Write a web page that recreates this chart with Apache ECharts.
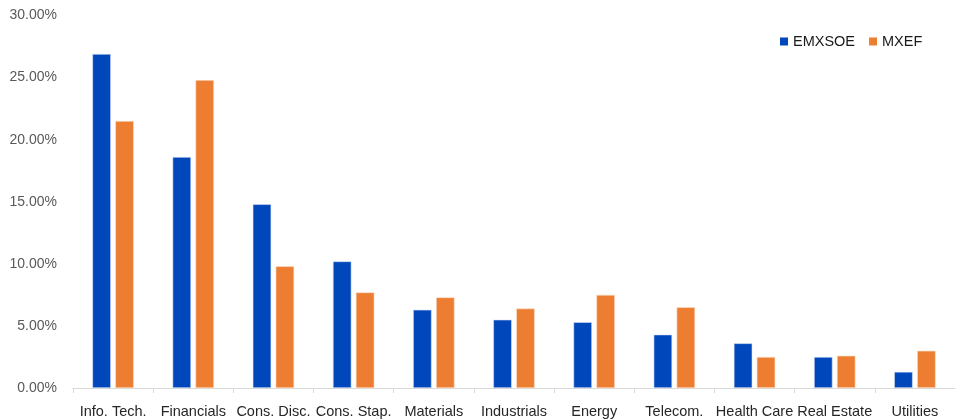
<!DOCTYPE html>
<html>
<head>
<meta charset="utf-8">
<script src="https://cdn.jsdelivr.net/npm/echarts@6/dist/echarts.min.js"></script>
<style>
html,body{margin:0;padding:0;background:#fff;}
#chart{width:955px;height:419px;}
</style>
</head>
<body>
<div id="chart"></div>
<script>
const categories = ['Info. Tech.', 'Financials', 'Cons. Disc.', 'Cons. Stap.', 'Materials', 'Industrials', 'Energy', 'Telecom.', 'Health Care', 'Real Estate', 'Utilities'];
const emxsoe = [26.9, 18.6, 14.8, 10.2, 6.3, 5.5, 5.3, 4.3, 3.6, 2.5, 1.3];
const mxef = [21.5, 24.8, 9.8, 7.7, 7.3, 6.4, 7.5, 6.5, 2.5, 2.6, 3.0];
const seriesNames = ['EMXSOE', 'MXEF'];
const yTicks = { min: 0, max: 30, interval: 5 };

const chart = echarts.init(document.getElementById('chart'));
const fontFamily = '"Liberation Sans", Arial, sans-serif';
chart.setOption({
  animation: false,
  textStyle: { fontFamily: fontFamily },
  legend: {
    data: seriesNames,
    left: 775,
    top: 29,
    icon: 'rect',
    itemWidth: 8,
    itemHeight: 8,
    itemGap: 14,
    itemStyle: { borderWidth: 0 },
    textStyle: { fontSize: 14.5, color: '#1a1a1a', fontFamily: fontFamily }
  },
  grid: { left: 73, top: 15.5, width: 892, height: 373.8, containLabel: false },
  xAxis: {
    type: 'category',
    data: categories,
    axisLine: { lineStyle: { color: '#d9d9d9', width: 1 } },
    axisTick: { show: true, alignWithLabel: false, length: 5, lineStyle: { color: '#d9d9d9' } },
    axisLabel: { color: '#262626', fontSize: 14.5, margin: 16, interval: 0, fontFamily: fontFamily }
  },
  yAxis: {
    type: 'value',
    min: yTicks.min,
    max: yTicks.max,
    interval: yTicks.interval,
    axisLine: { show: false },
    axisTick: { show: false },
    splitLine: { show: false },
    axisLabel: {
      color: '#595959', fontSize: 14, margin: 16, fontFamily: fontFamily,
      formatter: v => v.toFixed(2) + '%'
    }
  },
  series: [
    {
      name: seriesNames[0], type: 'bar', data: emxsoe,
      barWidth: 18.5, barGap: '24%',
      itemStyle: { color: '#0047BB', borderColor: '#d6e0f5', borderWidth: 0.6 }
    },
    {
      name: seriesNames[1], type: 'bar', data: mxef,
      barWidth: 18.5, barGap: '24%',
      itemStyle: { color: '#ED7D31', borderColor: '#fbe0cc', borderWidth: 0.6 }
    }
  ]
});
</script>
</body>
</html>
